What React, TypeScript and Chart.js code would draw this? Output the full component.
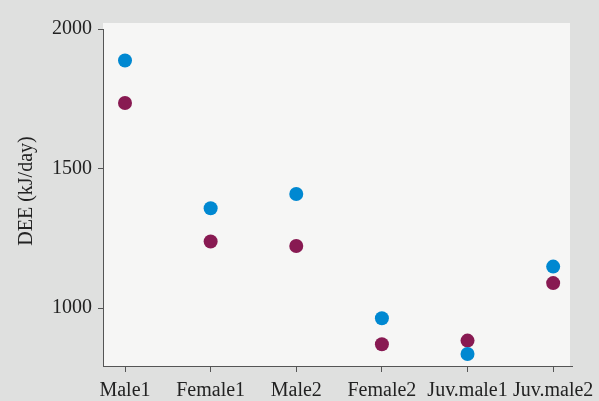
import React, { useEffect, useRef } from "react";
import { Chart, registerables } from "chart.js";

Chart.register(...registerables);

const categories = ["Male1", "Female1", "Male2", "Female2", "Juv.male1", "Juv.male2"];
const blueValues = [1887, 1358, 1409, 964, 836, 1149];
const maroonValues = [1735, 1239, 1223, 871, 884, 1090];
const yTickValues = [1000, 1500, 2000];
const yTitle = "DEE (kJ/day)";

const FONT = "'Liberation Serif', 'Times New Roman', serif";

const bgPlugin = {
  id: "panelBg",
  beforeDraw(chart: any) {
    const { ctx, chartArea } = chart;
    ctx.save();
    ctx.fillStyle = "#dfe0df";
    ctx.fillRect(0, 0, chart.width, chart.height);
    ctx.fillStyle = "#f6f6f5";
    ctx.fillRect(chartArea.left, chartArea.top - 6, chartArea.right - 2 - chartArea.left, chartArea.bottom - chartArea.top + 6);
    ctx.restore();
  },
  afterDraw(chart: any) {
    const { ctx } = chart;
    ctx.save();
    ctx.translate(27, 191);
    ctx.rotate(-Math.PI / 2);
    ctx.fillStyle = "#222";
    ctx.font = `20px ${FONT}`;
    ctx.textAlign = "center";
    ctx.textBaseline = "middle";
    ctx.fillText(yTitle, 0, 0);
    ctx.restore();
  },
};

export default function App() {
  const ref = useRef<HTMLCanvasElement>(null);
  useEffect(() => {
    if (!ref.current) return;
    const chart = new Chart(ref.current, {
      type: "scatter",
      data: {
        datasets: [
          {
            label: "blue",
            data: blueValues.map((v, i) => ({ x: i, y: v })),
            backgroundColor: "#0088d1",
            borderWidth: 0,
            pointRadius: 7,
            pointHoverRadius: 7,
          },
          {
            label: "maroon",
            data: maroonValues.map((v, i) => ({ x: i, y: v })),
            backgroundColor: "#881a52",
            borderWidth: 0,
            pointRadius: 7,
            pointHoverRadius: 7,
          },
        ],
      },
      options: {
        responsive: false,
        animation: false,
        layout: { padding: { top: 29, right: 27, left: 0, bottom: 0 } },
        plugins: { legend: { display: false }, tooltip: { enabled: false } },
        scales: {
          x: {
            type: "linear",
            min: -0.257,
            max: 5.22,
            afterBuildTicks: (scale: any) => {
              scale.ticks = categories.map((_, i) => ({ value: i }));
            },
            afterFit: (scale: any) => {
              scale.height = 35;
              scale.paddingLeft = 0;
              scale.paddingRight = 0;
            },
            ticks: {
              autoSkip: false,
              maxRotation: 0,
              padding: 7,
              color: "#222",
              font: { family: FONT, size: 20 },
              callback: (v: any) => categories[Math.round(Number(v))] ?? "",
            },
            grid: { drawOnChartArea: false, drawTicks: true, tickLength: 6, color: "#555", lineWidth: 1 },
            border: { display: true, color: "#555", width: 1 },
          },
          y: {
            type: "linear",
            min: 793,
            max: 2000,
            afterBuildTicks: (scale: any) => {
              scale.ticks = yTickValues.map((v) => ({ value: v }));
            },
            afterFit: (scale: any) => {
              scale.width = 103;
              scale.paddingTop = 0;
              scale.paddingBottom = 0;
            },
            ticks: {
              padding: 6,
              color: "#222",
              font: { family: FONT, size: 20 },
              callback: (v: any) => String(v),
            },
            grid: { drawOnChartArea: false, drawTicks: true, tickLength: 5, color: "#555", lineWidth: 1 },
            border: { display: true, color: "#555", width: 1 },
          },
        },
      },
      plugins: [bgPlugin],
    } as any);
    return () => chart.destroy();
  }, []);
  return (
    <div style={{ position: "fixed", left: 0, top: 0, width: 599, height: 401, background: "#dfe0df" }}>
      <canvas ref={ref} width={599} height={401} style={{ display: "block" }} />
    </div>
  );
}
